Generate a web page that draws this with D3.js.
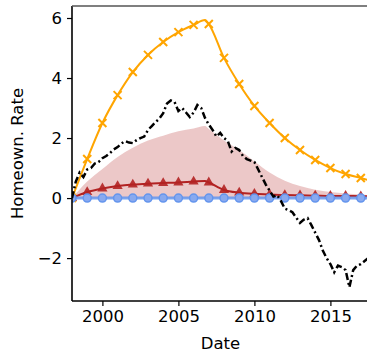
<!DOCTYPE html>
<html>
<head>
<meta charset="utf-8">
<script src="https://cdn.jsdelivr.net/npm/d3@7"></script>
<style>
	body { margin: 0; background: #fff; }
	text { font-family: "DejaVu Sans", sans-serif; }
</style>
</head>
<body>
<div id="chart"></div>
<script>
// yearly points (plus the 2006.75 turning point) for the smooth responses
const respDates = [1998, 1999, 2000, 2001, 2002, 2003, 2004, 2005, 2006, 2006.75, 2007, 2008, 2009, 2010, 2011, 2012, 2013, 2014, 2015, 2016, 2017, 2017.5]
const orangeVals = [0, 1.3, 2.5, 3.43, 4.2, 4.77, 5.2, 5.53, 5.77, 5.93, 5.8, 4.67, 3.8, 3.07, 2.5, 2.0, 1.6, 1.27, 1.0, 0.8, 0.67, 0.6]
const redVals = [0, 0.2, 0.32, 0.4, 0.45, 0.48, 0.5, 0.52, 0.55, 0.57, 0.52, 0.27, 0.18, 0.14, 0.12, 0.1, 0.09, 0.08, 0.07, 0.07, 0.06, 0.06]
const bandUpper = [0, 0.55, 0.97, 1.37, 1.68, 1.92, 2.08, 2.23, 2.32, 2.4, 2.3, 1.92, 1.6, 1.22, 0.85, 0.58, 0.4, 0.28, 0.2, 0.15, 0.12, 0.1]
const blueVals = [0, 0, 0, 0, 0, 0, 0, 0, 0, 0, 0, 0, 0, 0, 0, 0, 0, 0, 0, 0, 0, 0]

// quarterly observed series, 1998Q1 .. 2017Q3
const actualVals = [
	0, 0.55, 0.85, 0.7, 0.95, 1.0, 1.15, 1.2,
	1.33, 1.4, 1.5, 1.62, 1.7, 1.82, 1.9, 1.85,
	1.83, 1.93, 2.0, 2.05, 2.27, 2.4, 2.53, 2.65,
	2.83, 3.15, 3.25, 3.2, 2.9, 3.0, 2.85, 2.7,
	2.85, 3.1, 3.0, 2.67, 2.45, 2.27, 2.05, 2.17,
	2.0, 1.9, 1.55, 1.67, 1.6, 1.4, 1.3, 1.25,
	1.2, 0.95, 0.7, 0.45, 0.25, 0.05, 0.1, -0.1,
	-0.35, -0.4, -0.47, -0.65, -0.83, -0.72, -0.67, -0.9,
	-1.15, -1.4, -1.75, -2.0, -2.2, -2.47, -2.25, -2.3,
	-2.4, -2.97, -2.4, -2.25, -2.2, -2.1, -2.0
]
const actualDates = actualVals.map((v, i) => 1998 + i * 0.25)

const xTicks = [2000, 2005, 2010, 2015]
const yTicks = [-2, 0, 2, 4, 6]

const W = 367, H = 353
const margin = { top: 6, left: 72, bottom: 52 }
const plotH = H - margin.top - margin.bottom

const svg = d3.select("#chart").append("svg")
	.attr("width", W)
	.attr("height", H)

const x = d3.scaleLinear().domain([1998, 2018]).range([margin.left, margin.left + 20 * 15.2])
const y = d3.scaleLinear().domain([-3.43, 6.4]).range([margin.top + plotH, margin.top])

svg.append("clipPath").attr("id", "clip")
	.append("rect")
	.attr("x", margin.left).attr("y", margin.top)
	.attr("width", x(2018) - margin.left).attr("height", plotH)

const g = svg.append("g").attr("clip-path", "url(#clip)")

// confidence band
const area = d3.area()
	.x((d, i) => x(respDates[i]))
	.y0(y(0))
	.y1(d => y(d))
	.curve(d3.curveMonotoneX)
g.append("path")
	.datum(bandUpper)
	.attr("d", area)
	.attr("fill", "#b22222")
	.attr("fill-opacity", 0.25)

const line = d3.line()
	.x((d, i) => x(respDates[i]))
	.y(d => y(d))
	.curve(d3.curveMonotoneX)

const markIdx = respDates.map((d, i) => i).filter(i => Number.isInteger(respDates[i]))

// orange response
g.append("path").datum(orangeVals).attr("d", line)
	.attr("fill", "none").attr("stroke", "#ffa500").attr("stroke-width", 2)
g.selectAll(".ox").data(markIdx).join("path")
	.attr("transform", i => `translate(${x(respDates[i])},${y(orangeVals[i])})`)
	.attr("d", "M-4,-4L4,4M-4,4L4,-4")
	.attr("stroke", "#ffa500").attr("stroke-width", 2)

// red response
g.append("path").datum(redVals).attr("d", line)
	.attr("fill", "none").attr("stroke", "#b22222").attr("stroke-width", 2)
g.selectAll(".tri").data(markIdx).join("path")
	.attr("transform", i => `translate(${x(respDates[i])},${y(redVals[i])})`)
	.attr("d", d3.symbol(d3.symbolTriangle, 45))
	.attr("fill", "#b22222").attr("fill-opacity", 0.9)

// blue baseline
g.append("path").datum(blueVals).attr("d", line)
	.attr("fill", "none").attr("stroke", "#6495ed").attr("stroke-width", 3).attr("stroke-opacity", 0.85)
g.selectAll(".circ").data(markIdx).join("circle")
	.attr("cx", i => x(respDates[i]))
	.attr("cy", i => y(blueVals[i]))
	.attr("r", 4)
	.attr("fill", "#89a9ef")
	.attr("stroke", "#6495ed").attr("stroke-width", 1.5)

// observed series, dash-dot
g.append("path").datum(actualVals)
	.attr("d", d3.line().x((d, i) => x(actualDates[i])).y(d => y(d)))
	.attr("fill", "none").attr("stroke", "black").attr("stroke-width", 2.5)
	.attr("stroke-dasharray", "7,3,2,3")

// axes
const xAxis = svg.append("g")
	.attr("transform", `translate(0,${margin.top + plotH})`)
	.call(d3.axisBottom(x).tickValues(xTicks).tickFormat(d3.format("d")).tickSize(5).tickPadding(4))
const yAxis = svg.append("g")
	.attr("transform", `translate(${margin.left},0)`)
	.call(d3.axisLeft(y).tickValues(yTicks).tickFormat(d => d < 0 ? "\u2212" + Math.abs(d) : d).tickSize(5).tickPadding(5))

for (const ax of [xAxis, yAxis]) {
	ax.select(".domain").attr("stroke", "black").attr("stroke-width", 1.6)
	ax.selectAll(".tick line").attr("stroke", "black").attr("stroke-width", 1.2)
	ax.selectAll(".tick text").attr("font-size", "16.5px").attr("fill", "black")
		.style("font-family", "DejaVu Sans")
}
xAxis.select(".domain").attr("d", `M${margin.left},0H${W}`)
yAxis.select(".domain").attr("d", `M0,${margin.top}V${margin.top + plotH}`)

// top spine
svg.append("line")
	.attr("x1", margin.left).attr("x2", W)
	.attr("y1", margin.top).attr("y2", margin.top)
	.attr("stroke", "#555").attr("stroke-width", 1.6)

svg.append("text")
	.attr("x", (margin.left + W) / 2 + 1).attr("y", 349)
	.attr("text-anchor", "middle")
	.attr("font-size", "16.5px")
	.text("Date")

svg.append("text")
	.attr("transform", `translate(23,${margin.top + plotH / 2}) rotate(-90)`)
	.attr("text-anchor", "middle")
	.attr("font-size", "16.5px")
	.text("Homeown. Rate")
</script>
</body>
</html>
